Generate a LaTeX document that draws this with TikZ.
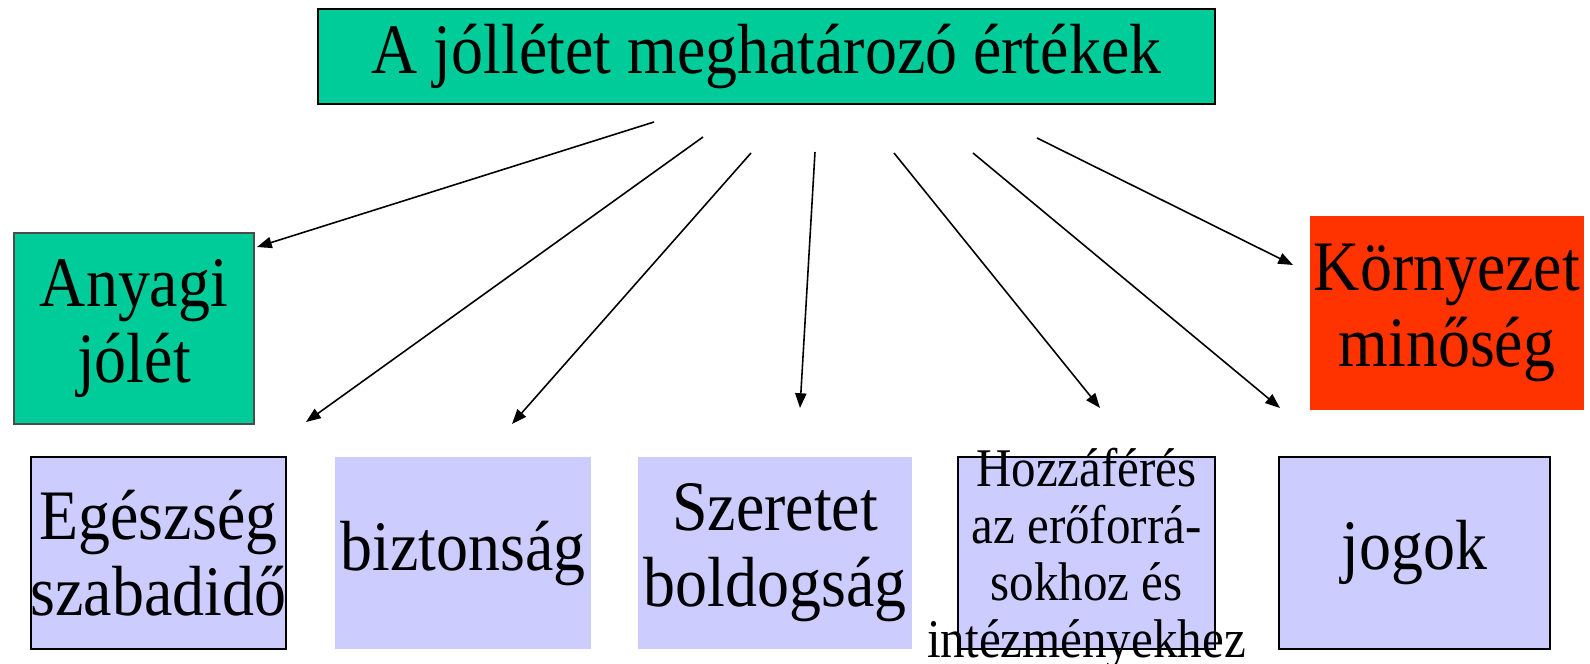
\documentclass[tikz,border=0pt]{standalone}
\usepackage{fontspec}
\setmainfont{Liberation Serif}[FakeStretch=0.9]
\usetikzlibrary{arrows.meta}
\definecolor{zold}{RGB}{0,204,153}
\definecolor{lila}{RGB}{204,204,255}
\definecolor{piros}{RGB}{255,51,0}
\begin{document}
\begin{tikzpicture}[-{Triangle[length=4.2pt,width=3.2pt]},line width=0.45pt,
  doboz/.style={inner sep=0pt,align=center,font=\fontsize{20.2}{21.6}\selectfont},
  keret/.style={draw=black,line width=0.6pt},
  kicsi/.style={inner sep=0pt,align=center,font=\fontsize{15.5}{16.2}\selectfont}]
        \useasboundingbox (0,0) rectangle (15.9,-6.64);
        \node[doboz,keret,fill=zold,minimum width=8.97cm,minimum height=0.95cm] (T) at (7.665,-0.565) {A jóllétet meghatározó értékek};
        \node[doboz,draw=black!70,line width=0.6pt,fill=zold,minimum width=2.40cm,minimum height=1.91cm] (A) at (1.34,-3.285) {Anyagi\\jólét};
        \node[doboz,fill=piros,minimum width=2.74cm,minimum height=1.94cm] (K) at (14.47,-3.13) {Környezet\\minőség};
        \node[doboz,keret,fill=lila,minimum width=2.55cm,minimum height=1.92cm] (E) at (1.585,-5.53) {Egészség\\szabadidő};
        \node[doboz,fill=lila,minimum width=2.56cm,minimum height=1.92cm] (B) at (4.63,-5.53) {biztonság};
        \node[doboz,fill=lila,minimum width=2.74cm,minimum height=1.92cm] (S) at (7.75,-5.53) {Szeretet\\boldogság};
        \node[doboz,keret,fill=lila,minimum width=2.57cm,minimum height=1.92cm] (H) at (10.865,-5.53) {};
        \node[kicsi] (Hs) at (10.865,-5.59) {Hozzáférés\\az erőforrá-\\sokhoz és\\intézményekhez};
        \node[doboz,keret,fill=lila,minimum width=2.71cm,minimum height=1.92cm] (J) at (14.145,-5.53) {jogok};
        \coordinate (t1) at (6.54,-1.22); \coordinate (v1) at (2.57,-2.47);
        \coordinate (t2) at (7.03,-1.37); \coordinate (v2) at (3.06,-4.22);
        \coordinate (t3) at (7.51,-1.53); \coordinate (v3) at (5.12,-4.24);
        \coordinate (t4) at (8.15,-1.52); \coordinate (v4) at (8.00,-4.08);
        \coordinate (t5) at (8.94,-1.53); \coordinate (v5) at (11.00,-4.08);
        \coordinate (t6) at (9.73,-1.53); \coordinate (v6) at (12.80,-4.08);
        \coordinate (t7) at (10.37,-1.38); \coordinate (v7) at (12.93,-2.65);
        \draw (t1) -- (v1); \draw (t2) -- (v2);
        \draw (t3) -- (v3);
        \draw (t4) -- (v4);
        \draw (t5) -- (v5);
        \draw (t6) -- (v6);
        \draw (t7) -- (v7);
      \end{tikzpicture}
\end{document}
